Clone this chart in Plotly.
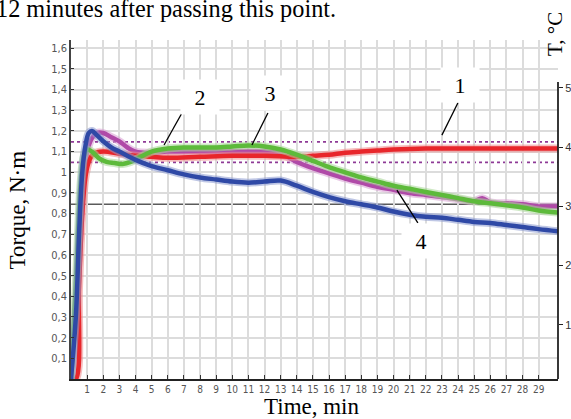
import plotly.graph_objects as go

# ---------------- data ----------------
red_t = [0, 0.3, 0.5, 0.7, 0.9, 1.1, 1.4, 2, 3, 4, 5, 6, 8, 10, 12, 14, 15, 16, 17, 18, 19, 20, 22, 24, 26, 28, 30.2]
red_v = [0, 0, 0.45, 0.8, 0.98, 1.05, 1.09, 1.1, 1.09, 1.08, 1.075, 1.07, 1.075, 1.08, 1.08, 1.075, 1.08, 1.085, 1.095, 1.1, 1.105, 1.11, 1.115, 1.115, 1.115, 1.115, 1.115]

blue_t = [0, 0.3, 0.5, 0.7, 0.9, 1.1, 1.3, 1.6, 2, 2.5, 3, 4, 5, 6, 7, 8, 9, 10, 11, 12, 13, 14, 15, 16, 17, 18, 19, 20, 21, 22, 23, 24, 25, 26, 27, 28, 29, 30.2]
blue_v = [0, 0.3, 0.7, 1.0, 1.13, 1.19, 1.2, 1.18, 1.15, 1.12, 1.1, 1.06, 1.03, 1.01, 0.99, 0.975, 0.965, 0.955, 0.95, 0.955, 0.96, 0.935, 0.905, 0.88, 0.86, 0.845, 0.83, 0.81, 0.795, 0.785, 0.78, 0.77, 0.76, 0.755, 0.745, 0.735, 0.725, 0.715]

green_t = [0, 0.3, 0.6, 0.8, 1.0, 1.3, 1.7, 2.2, 2.7, 3.2, 3.7, 4.2, 5, 6, 7, 8, 9, 10, 11, 12, 13, 14, 15, 16, 17, 18, 19, 20, 21, 22, 23, 24, 25, 26, 27, 28, 29, 30.2]
green_v = [0, 0.45, 0.95, 1.08, 1.11, 1.1, 1.07, 1.05, 1.045, 1.04, 1.05, 1.07, 1.1, 1.115, 1.12, 1.12, 1.12, 1.125, 1.13, 1.125, 1.11, 1.085, 1.055, 1.025, 1.0, 0.975, 0.955, 0.935, 0.92, 0.905, 0.89, 0.875, 0.86, 0.85, 0.84, 0.83, 0.815, 0.805]

magenta_t = [0, 0.3, 0.6, 0.9, 1.2, 1.6, 2, 2.5, 3, 3.5, 4, 5, 6, 8, 10, 12, 13, 14, 15, 16, 17, 18, 19, 20, 21, 22, 23, 24, 25, 25.5, 26, 27, 28, 29, 30.2]
magenta_v = [0, 0.35, 0.8, 1.05, 1.15, 1.19, 1.19, 1.17, 1.15, 1.12, 1.1, 1.095, 1.1, 1.1, 1.1, 1.1, 1.09, 1.05, 1.02, 0.995, 0.97, 0.95, 0.93, 0.915, 0.9, 0.89, 0.88, 0.87, 0.86, 0.875, 0.855, 0.85, 0.845, 0.835, 0.835]

limit_upper = 1.147
limit_lower = 1.048
ref_level = 0.845

y_ticks = [0.1, 0.2, 0.3, 0.4, 0.5, 0.6, 0.7, 0.8, 0.9, 1.0, 1.1, 1.2, 1.3, 1.4, 1.5, 1.6]
y_ticktext = ["0,1", "0,2", "0,3", "0,4", "0,5", "0,6", "0,7", "0,8", "0,9", "1",
              "1,1", "1,2", "1,3", "1,4", "1,5", "1,6"]
x_ticks = list(range(1, 30))
y2_ticks = [10, 20, 30, 40, 50]
y2_ticktext = ["10", "20", "30", "40", "50"]

# curve labels: (text, label_x, label_y, leader from (x0,y0) to (x1,y1))
curve_labels = [
    ("1", 24.12, 1.422, 23.99, 1.335, 23.0, 1.18),
    ("2", 8.0, 1.364, 6.88, 1.287, 5.77, 1.132),
    ("3", 12.34, 1.384, 12.21, 1.287, 11.22, 1.132),
    ("4", 21.7, 0.668, 21.51, 0.755, 20.21, 0.914),
]

RED = "#e8262b"
BLUE = "#2f49a6"
GREEN = "#5dba3b"
MAGENTA = "#b04aa8"

fig = go.Figure()

def add_curve(t, v, color, halo):
    fig.add_trace(go.Scatter(x=t, y=v, mode="lines", line=dict(color=halo, width=8, shape="spline"),
                             opacity=0.55, hoverinfo="skip", showlegend=False))
    fig.add_trace(go.Scatter(x=t, y=v, mode="lines", line=dict(color=color, width=4.5, shape="spline"),
                             showlegend=False))

add_curve(magenta_t, magenta_v, MAGENTA, "#d9a0d4")
add_curve(red_t, red_v, RED, "#f08a8c")
add_curve(green_t, green_v, GREEN, "#a8d896")
add_curve(blue_t, blue_v, BLUE, "#8c9ad0")

# invisible trace to activate y2
fig.add_trace(go.Scatter(x=[0], y=[0], yaxis="y2", mode="markers", marker=dict(opacity=0),
                         showlegend=False, hoverinfo="skip"))

shapes = []
for lvl in (limit_upper, limit_lower):
    shapes.append(dict(type="line", xref="paper", x0=0, x1=1, yref="y", y0=lvl, y1=lvl,
                       line=dict(color="#8e3a96", width=1.6, dash="dot"), layer="below"))
shapes.append(dict(type="line", xref="paper", x0=0, x1=1, yref="y", y0=ref_level, y1=ref_level,
                   line=dict(color="#5a5a5a", width=1.5), layer="below"))
# right temperature axis line
shapes.append(dict(type="line", xref="paper", x0=1, x1=1, yref="y2", y0=0.84, y1=51,
                   line=dict(color="#222", width=1.8)))
for txt, lx, ly, x0, y0, x1, y1 in curve_labels:
    shapes.append(dict(type="line", xref="x", yref="y", x0=x0, y0=y0, x1=x1, y1=y1,
                       line=dict(color="black", width=1.3)))

annotations = []
for txt, lx, ly, x0, y0, x1, y1 in curve_labels:
    annotations.append(dict(x=lx, y=ly, xref="x", yref="y", text=txt, showarrow=False,
                            xanchor="center", yanchor="middle",
                            bgcolor="white", width=36, height=32,
                            font=dict(family="Liberation Serif", size=22, color="black")))

annotations += [
    dict(x=(-6 - 71) / 487.0, y=1.0 + (40 - 8) / 339.0, xref="paper", yref="paper",
         text="12 minutes after passing this point.",
         showarrow=False, xanchor="left", yanchor="middle",
         font=dict(family="Liberation Serif", size=24.3, color="black")),
    dict(x=-0.109, y=0.5, xref="paper", yref="paper", text="Torque, N·m", textangle=-90,
         showarrow=False, xanchor="center", yanchor="middle",
         font=dict(family="Liberation Serif", size=23, color="black")),
    dict(x=(312 - 71) / 487.0, y=-0.08, xref="paper", yref="paper", text="Time, min",
         showarrow=False, xanchor="center", yanchor="middle",
         font=dict(family="Liberation Serif", size=23, color="black")),
    dict(x=(555 - 71) / 487.0, y=1.0 + (40 - 34) / 339.0, xref="paper", yref="paper",
         text="T, °C", textangle=-90,
         showarrow=False, xanchor="center", yanchor="middle",
         font=dict(family="Liberation Serif", size=21, color="black")),
]

tickfont = dict(family="Liberation Sans Narrow, Arial Narrow, DejaVu Sans Condensed, sans-serif",
                size=11, color="#555")

fig.update_layout(
    width=571, height=419,
    margin=dict(l=71, r=13, t=40, b=40, autoexpand=False),
    paper_bgcolor="white", plot_bgcolor="white",
    xaxis=dict(range=[0, 30.2], tickvals=x_ticks, ticks="inside", ticklen=4, tickcolor="#333",
               showgrid=True, gridcolor="#dcdcdc", gridwidth=1.5,
               showline=True, linecolor="#222", linewidth=1.8, zeroline=False,
               tickfont=dict(tickfont, size=10), automargin=False),
    yaxis=dict(range=[0, 1.64], tickvals=y_ticks, ticktext=y_ticktext, ticks="inside", ticklen=3,
               tickcolor="#333", showgrid=True, gridcolor="#dcdcdc", gridwidth=1.5,
               showline=True, linecolor="#444", linewidth=1.5, zeroline=False,
               tickfont=tickfont, automargin=False),
    yaxis2=dict(overlaying="y", side="right", range=[0.84, 58.1], tickvals=y2_ticks,
                ticktext=y2_ticktext, ticks="outside", ticklen=4, tickcolor="#222",
                showgrid=False, showline=False, zeroline=False,
                tickfont=dict(family="Liberation Sans Narrow, Arial Narrow, sans-serif", size=11, color="#333"),
                automargin=False),
    shapes=shapes,
    annotations=annotations,
    showlegend=False,
)

# remove the default 8px page margin so the figure sits at the window's top-left corner
fig.write_html("out.html", config={"displayModeBar": False},
               post_script="document.body.style.margin='0';")
